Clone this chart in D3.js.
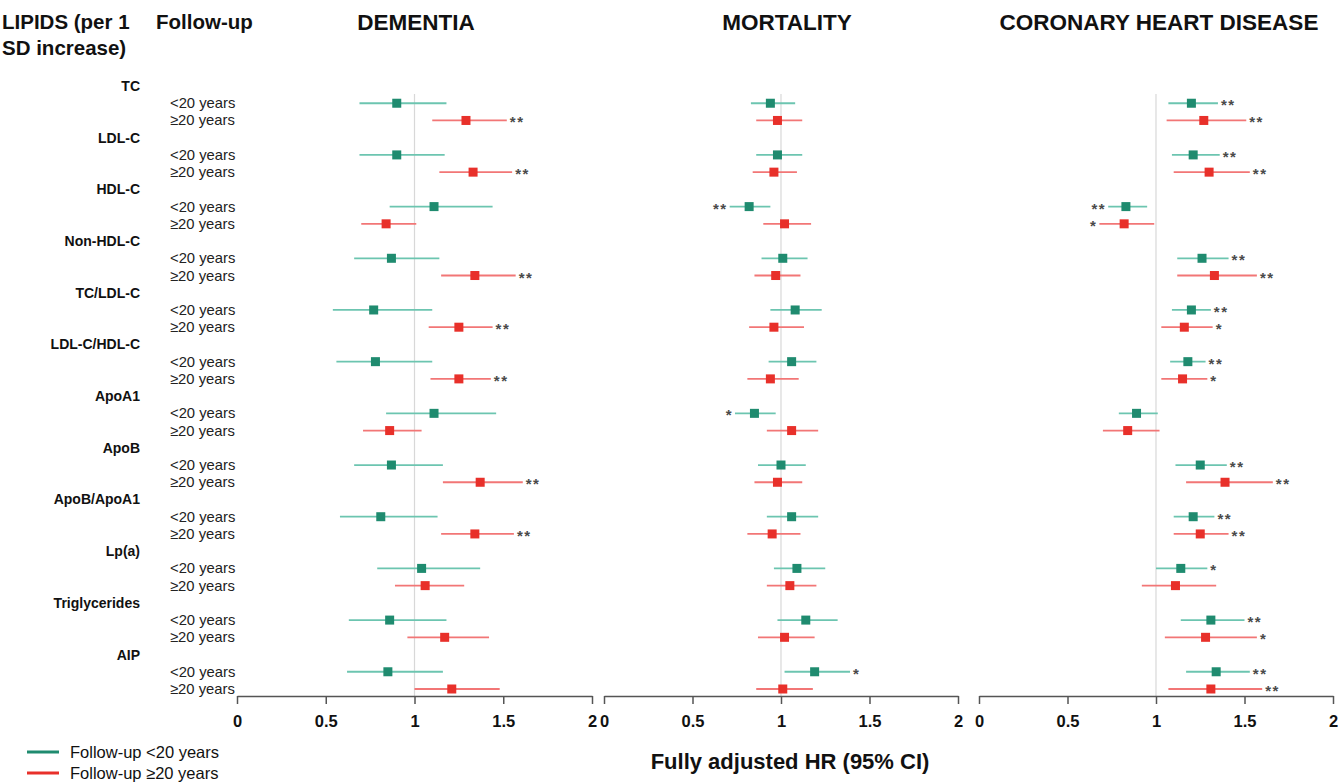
<!DOCTYPE html>
<html>
<head>
<meta charset="utf-8">
<script src="https://cdn.jsdelivr.net/npm/d3@7"></script>
<style>
  body { margin: 0; background: #fff; }
  text { font-family: "Liberation Sans", Arial, sans-serif; }
</style>
</head>
<body>
<div id="chart"></div>
<script>
const lipids = ["TC", "LDL-C", "HDL-C", "Non-HDL-C", "TC/LDL-C", "LDL-C/HDL-C", "ApoA1", "ApoB", "ApoB/ApoA1", "Lp(a)", "Triglycerides", "AIP"]
const followups = ["<20 years", "≥20 years"]
const outcomes = ["DEMENTIA", "MORTALITY", "CORONARY HEART DISEASE"]
const ticks = [0, 0.5, 1, 1.5, 2]

// [estimate, lower, upper, stars] per lipid: <20 years then >=20 years
const dementia = [
    [[0.90, 0.69, 1.18, ""], [1.29, 1.10, 1.52, "**"]],
    [[0.90, 0.69, 1.17, ""], [1.33, 1.14, 1.55, "**"]],
    [[1.11, 0.86, 1.44, ""], [0.84, 0.70, 1.01, ""]],
    [[0.87, 0.66, 1.14, ""], [1.34, 1.15, 1.57, "**"]],
    [[0.77, 0.54, 1.10, ""], [1.25, 1.08, 1.44, "**"]],
    [[0.78, 0.56, 1.10, ""], [1.25, 1.09, 1.43, "**"]],
    [[1.11, 0.84, 1.46, ""], [0.86, 0.71, 1.04, ""]],
    [[0.87, 0.66, 1.16, ""], [1.37, 1.16, 1.61, "**"]],
    [[0.81, 0.58, 1.13, ""], [1.34, 1.15, 1.56, "**"]],
    [[1.04, 0.79, 1.37, ""], [1.06, 0.89, 1.28, ""]],
    [[0.86, 0.63, 1.18, ""], [1.17, 0.96, 1.42, ""]],
    [[0.85, 0.62, 1.16, ""], [1.21, 1.00, 1.48, ""]]
]
const mortality = [
    [[0.94, 0.83, 1.08, ""], [0.98, 0.86, 1.12, ""]],
    [[0.98, 0.86, 1.12, ""], [0.96, 0.84, 1.09, ""]],
    [[0.82, 0.71, 0.94, "**"], [1.02, 0.90, 1.17, ""]],
    [[1.01, 0.89, 1.15, ""], [0.97, 0.85, 1.11, ""]],
    [[1.08, 0.94, 1.23, ""], [0.96, 0.82, 1.13, ""]],
    [[1.06, 0.93, 1.20, ""], [0.94, 0.81, 1.10, ""]],
    [[0.85, 0.74, 0.97, "*"], [1.06, 0.92, 1.21, ""]],
    [[1.00, 0.87, 1.14, ""], [0.98, 0.85, 1.12, ""]],
    [[1.06, 0.92, 1.21, ""], [0.95, 0.81, 1.11, ""]],
    [[1.09, 0.96, 1.25, ""], [1.05, 0.92, 1.20, ""]],
    [[1.14, 0.98, 1.32, ""], [1.02, 0.87, 1.19, ""]],
    [[1.19, 1.02, 1.39, "*"], [1.01, 0.86, 1.18, ""]]
]
const chd = [
    [[1.20, 1.07, 1.35, "**"], [1.27, 1.06, 1.51, "**"]],
    [[1.21, 1.09, 1.36, "**"], [1.30, 1.10, 1.53, "**"]],
    [[0.83, 0.73, 0.95, "**"], [0.82, 0.68, 0.99, "*"]],
    [[1.26, 1.12, 1.41, "**"], [1.33, 1.12, 1.57, "**"]],
    [[1.20, 1.09, 1.31, "**"], [1.16, 1.03, 1.32, "*"]],
    [[1.18, 1.08, 1.28, "**"], [1.15, 1.03, 1.29, "*"]],
    [[0.89, 0.79, 1.01, ""], [0.84, 0.70, 1.02, ""]],
    [[1.25, 1.11, 1.40, "**"], [1.39, 1.17, 1.66, "**"]],
    [[1.21, 1.10, 1.33, "**"], [1.25, 1.10, 1.41, "**"]],
    [[1.14, 1.00, 1.29, "*"], [1.11, 0.92, 1.34, ""]],
    [[1.31, 1.14, 1.50, "**"], [1.28, 1.05, 1.57, "*"]],
    [[1.34, 1.17, 1.53, "**"], [1.31, 1.07, 1.60, "**"]]
]
const panelData = [dementia, mortality, chd]

const W = 1341, H = 782
const tealLine = "#6cc5b0", tealMark = "#1f8b6f"
const redLine = "#f27676", redMark = "#e8302a"
const panels = [
    { range: [237, 592], titleX: 416 },
    { range: [604, 958], titleX: 787 },
    { range: [979, 1333], titleX: 1159 }
]
const axisY = 696

const svg = d3.select("#chart").append("svg")
    .attr("width", W)
    .attr("height", H)

// one row per header and per follow-up line
let rowKeys = []
lipids.forEach(l => {
    rowKeys.push(l + "|h")
    followups.forEach((f, j) => rowKeys.push(l + "|" + j))
})
const y = d3.scalePoint().domain(rowKeys).range([86, 689])

// left column headers
svg.append("text").attr("x", 2).attr("y", 29).attr("font-size", 20.5).attr("font-weight", "bold")
    .attr("fill", "#111").text("LIPIDS (per 1")
svg.append("text").attr("x", 2).attr("y", 55).attr("font-size", 20.5).attr("font-weight", "bold")
    .attr("fill", "#111").text("SD increase)")
svg.append("text").attr("x", 156).attr("y", 29).attr("font-size", 20.5).attr("font-weight", "bold")
    .attr("fill", "#111").text("Follow-up")

svg.selectAll(".lipid").data(lipids).enter().append("text")
    .attr("class", "lipid")
    .attr("x", 140)
    .attr("y", d => y(d + "|h") + 5)
    .attr("text-anchor", "end")
    .attr("font-size", 14)
    .attr("font-weight", "bold")
    .attr("fill", "#111")
    .text(d => d)

lipids.forEach(l => {
    followups.forEach((f, j) => {
        svg.append("text")
            .attr("x", 170)
            .attr("y", y(l + "|" + j) + 5)
            .attr("font-size", 14.8)
            .attr("fill", "#222")
            .text(f)
    })
})

panels.forEach((p, k) => {
    const x = d3.scaleLinear().domain([0, 2]).range(p.range)
    const g = svg.append("g")

    g.append("text")
        .attr("x", p.titleX).attr("y", 30)
        .attr("text-anchor", "middle")
        .attr("font-size", 22.5).attr("font-weight", "bold").attr("fill", "#111")
        .text(outcomes[k])

    // reference line at HR = 1
    g.append("line")
        .attr("x1", x(1)).attr("x2", x(1))
        .attr("y1", 94).attr("y2", axisY)
        .attr("stroke", "#d8d8d8").attr("stroke-width", 1.2)

    const ax = g.append("g")
        .attr("transform", `translate(0,${axisY})`)
        .call(d3.axisBottom(x).tickValues(ticks).tickFormat(d3.format("")).tickSize(8).tickSizeOuter(0))
    ax.select(".domain").attr("stroke", "#555").attr("stroke-width", 1.5)
    ax.selectAll(".tick line").attr("stroke", "#555").attr("stroke-width", 1.5)
    ax.selectAll(".tick text")
        .attr("font-size", 16.5).attr("font-weight", "bold").attr("fill", "#111")
        .attr("font-family", "Liberation Sans, Arial, sans-serif")
        .attr("y", 31).attr("dy", 0)

    let rows = []
    panelData[k].forEach((pair, i) => {
        pair.forEach((d, j) => rows.push({ key: lipids[i] + "|" + j, j: j, est: d[0], lo: d[1], hi: d[2], sig: d[3] }))
    })

    g.selectAll(".ci").data(rows).enter().append("line")
        .attr("x1", d => x(d.lo)).attr("x2", d => x(d.hi))
        .attr("y1", d => y(d.key)).attr("y2", d => y(d.key))
        .attr("stroke", d => d.j === 0 ? tealLine : redLine)
        .attr("stroke-width", 1.8)

    g.selectAll(".est").data(rows).enter().append("rect")
        .attr("x", d => x(d.est) - 4.5).attr("y", d => y(d.key) - 4.5)
        .attr("width", 9).attr("height", 9)
        .attr("fill", d => d.j === 0 ? tealMark : redMark)

    g.selectAll(".sig").data(rows.filter(d => d.sig)).enter().append("text")
        .attr("x", d => d.est < 1 ? x(d.lo) - 2 : x(d.hi) + 3)
        .attr("y", d => y(d.key) + 7)
        .attr("text-anchor", d => d.est < 1 ? "end" : "start")
        .attr("font-size", 15)
        .attr("font-weight", "bold")
        .attr("letter-spacing", 1.5)
        .attr("fill", "#4a4a4a")
        .text(d => d.sig)
})

// legend
const legend = [["Follow-up <20 years", tealMark, 752], ["Follow-up ≥20 years", redMark, 773]]
legend.forEach(d => {
    svg.append("line").attr("x1", 27).attr("x2", 59).attr("y1", d[2]).attr("y2", d[2])
        .attr("stroke", d[1]).attr("stroke-width", 3)
    svg.append("text").attr("x", 70).attr("y", d[2] + 5.5).attr("font-size", 16.5).attr("fill", "#111").text(d[0])
})

svg.append("text")
    .attr("x", 790).attr("y", 769)
    .attr("text-anchor", "middle")
    .attr("font-size", 22).attr("font-weight", "bold").attr("fill", "#111")
    .text("Fully adjusted HR (95% CI)")
</script>
</body>
</html>
